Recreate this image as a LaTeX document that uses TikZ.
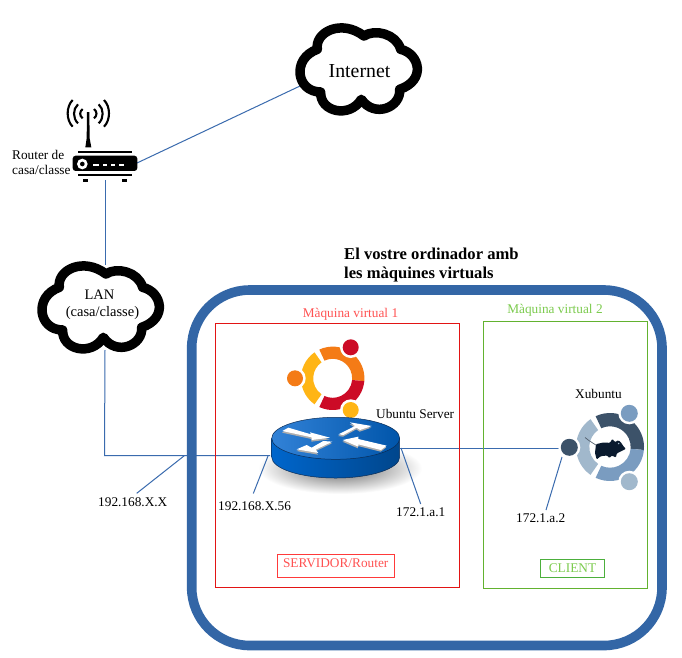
\documentclass[tikz,border=0pt]{standalone}
\usepackage{fontspec}
\setmainfont{Liberation Serif}
\definecolor{linkblue}{HTML}{3A6BAE}
\definecolor{frameblue}{HTML}{3366A6}
\definecolor{vmgreen}{HTML}{62B22F}
\definecolor{vmgreentxt}{HTML}{7CCB4E}
\definecolor{clientbox}{HTML}{4CAF3C}
\definecolor{vmred}{HTML}{E21414}
\definecolor{vmredtxt}{HTML}{FF5252}
\definecolor{srvbox}{HTML}{FF3A3A}
\definecolor{ubO}{HTML}{F47B16}
\definecolor{ubY}{HTML}{FFB515}
\definecolor{ubR}{HTML}{CC0B26}
\definecolor{xuD}{HTML}{3C5269}
\definecolor{xuM}{HTML}{7A9CC0}
\definecolor{xuL}{HTML}{A1B8CC}
\definecolor{rtSideL}{HTML}{0066CC}
\definecolor{rtSideR}{HTML}{00468C}
\definecolor{rtTopL}{HTML}{3282D7}
\definecolor{rtTopR}{HTML}{0055AA}
\definecolor{rtEdge}{HTML}{0B2C55}
\definecolor{mouse}{HTML}{0A1A2E}
\newcommand{\fs}[1]{\fontsize{#1}{#1}\selectfont}
\newcommand{\sector}[7]{\fill[#7] ([shift={(#1,#2)}]#5:#4) arc[start angle=#5,end angle=#6,radius=#4] -- ([shift={(#1,#2)}]#6:#3) arc[start angle=#6,end angle=#5,radius=#3] -- cycle;}
\newcommand{\cloudshape}[2]{\draw[cloudline,shift={(#1,#2)},scale=0.3333] (118,112) .. controls (110,60) and (190,20) .. (258,72) .. controls (290,50) and (355,65) .. (368,112) .. controls (425,125) and (445,205) .. (365,232) .. controls (370,285) and (290,320) .. (250,262) .. controls (215,320) and (125,300) .. (128,240) .. controls (55,240) and (40,140) .. (118,112) -- cycle;}
\newcommand{\rtarrow}[1]{\fill[arrowshade,shift={(-1,5)}] #1 -- cycle; \fill[arrowpoly] #1 -- cycle;}
\tikzset{
  link/.style={draw=linkblue,line width=1pt},
  cloudline/.style={draw=black,fill=white,line width=9.5pt,line join=round},
  lbl/.style={inner sep=0pt,text=black,font=\fs{13.3}},
  vmbox/.style={draw,line width=1pt,inner sep=0pt,anchor=north west},
  arrowpoly/.style={fill=white},
  arrowshade/.style={fill=black!32},
  wave/.style={draw=black,line width=2.1pt}
}
\begin{document}
\begin{tikzpicture}[x=1pt,y=-1pt]
\useasboundingbox (0,0) rectangle (682,657);
\fill[white] (0,0) rectangle (682,657);
% soft shadow of the router
\shade[inner color=black!62,outer color=white] (340,468) ellipse[x radius=82,y radius=26];
% anchors for connectors
\coordinate (inetport) at (300,86);
\coordinate (routerport) at (137,163);
\coordinate (routerdown) at (105,180);
\coordinate (lantop) at (105,265);
\coordinate (lanbot) at (105,350);
\coordinate (elbow) at (104.5,455.7);
\coordinate (srvL) at (270,455.7);
\coordinate (srvR) at (400,448.5);
\coordinate (cliL) at (561,448.5);
\coordinate (tapA) at (184.3,455.7);
\coordinate (leadA) at (136.7,493.3);
\coordinate (tapB) at (268,456);
\coordinate (leadB) at (253.3,493.5);
\coordinate (tapC) at (401,448);
\coordinate (leadC) at (420.7,504);
\coordinate (tapD) at (562,457);
\coordinate (leadD) at (546,510);
% connectors
\draw[link] (routerport) -- (inetport);
\draw[link] (routerdown) -- (lantop);
\draw[link] (lanbot) -- (elbow) -- (srvL);
\draw[link] (srvR) -- (cliL);
\draw[link] (tapA) -- (leadA);
\draw[link] (tapB) -- (leadB);
\draw[link] (tapC) -- (leadC);
\draw[link] (tapD) -- (leadD);
% frame
\draw[frameblue,line width=9.6pt] (191.7,290) [rounded corners=58pt] -- (662,290) -- (662,645.5) -- (191.7,645.5) -- cycle;
\node[vmbox,draw=vmred,minimum width=243.6pt,minimum height=263.7pt] (vm1) at (215.2,322.8) {};
\node[vmbox,draw=vmgreen,minimum width=164pt,minimum height=267pt] (vm2) at (482.8,320.8) {};
% text labels
\node[lbl,text=vmredtxt] (vm1t) at (350.5,314.5) {Màquina virtual 1};
\node[lbl,text=vmgreentxt] (vm2t) at (555,310.5) {Màquina virtual 2};
\node[lbl,font=\fs{16.6}\bfseries,align=left,anchor=north west] (title) at (344,247.5) {El vostre ordinador amb\\[2.5pt]les màquines virtuals};
\node[draw=srvbox,line width=0.9pt,minimum width=117pt,minimum height=23pt,inner sep=0pt] (srv) at (335.8,565.8) {};
\node[lbl,text=vmredtxt] (srvt) at (335.7,562.7) {SERVIDOR/Router};
\node[draw=clientbox,line width=0.9pt,minimum width=64pt,minimum height=18pt,inner sep=0pt] (cli) at (572.3,568.3) {};
\node[lbl,text=vmgreentxt] (clit) at (572.5,567.7) {CLIENT};
\node[lbl,anchor=west] (ubs) at (376,413.5) {Ubuntu Server};
\node[lbl,anchor=west] (xub) at (575,394) {Xubuntu};
\node[lbl,anchor=west] (ip1) at (396,512) {172.1.a.1};
\node[lbl,anchor=west] (ip2) at (516,518.5) {172.1.a.2};
\node[lbl,anchor=west] (ip3) at (98,502.5) {192.168.X.X};
\node[lbl,anchor=west] (ip4) at (218,505.7) {192.168.X.56};
\node[lbl,align=left,anchor=north west] (rlabel) at (12,150) {Router de\\[2pt]casa/classe};
% clouds
\cloudshape{20}{250}
\cloudshape{278}{12}
\node[lbl,font=\fs{14.5}] (lan) at (99.5,295) {LAN};
\node[lbl,font=\fs{14.5}] (lanb) at (102.5,313) {(casa/classe)};
\node[lbl,font=\fs{19.8}] (internet) at (359.5,71) {Internet};
% wireless router icon
\begin{scope}[shift={(50,90)},scale=0.3333]
\fill[black,rounded corners=3pt] (68,197) rectangle (262,243);
\fill (85,183) rectangle (245,189);
\fill (85,253) rectangle (245,259);
\fill (100,268) rectangle (115,275);
\fill (215,268) rectangle (230,275);
\fill (111,66) -- (118,66) -- (119,145) -- (124,172) -- (106,172) -- (110,145) -- cycle;
\fill[white] (97,222) circle[radius=16];
\fill[black] (97,222) circle[radius=7];
\foreach \a/\b in {130/147,160/172,182/195,207/222}{\fill[white] (\a,222) rectangle (\b,229);}
\end{scope}
\begin{scope}[shift={(60,95)},scale=0.3333]
\draw[wave] (68,42) .. controls (58,50) and (58,62) .. (68,70);
\draw[wave] (54,28) .. controls (38,42) and (38,70) .. (54,85);
\draw[wave] (38,15) .. controls (18,35) and (18,75) .. (38,95);
\draw[wave] (102,42) .. controls (112,50) and (112,62) .. (102,70);
\draw[wave] (116,28) .. controls (132,42) and (132,70) .. (116,85);
\draw[wave] (132,15) .. controls (152,35) and (152,75) .. (132,95);
\end{scope}
% ubuntu logo
\sector{332.7}{378.3}{19.5}{31.7}{5}{-115}{ubO}
\sector{332.7}{378.3}{19.5}{31.7}{-125}{-235}{ubY}
\sector{332.7}{378.3}{19.5}{31.7}{115}{5}{ubR}
\fill[white] (350.7,347.3) circle[radius=10.7];
\fill[white] (295,378.3) circle[radius=10.7];
\fill[white] (350.7,410) circle[radius=10.7];
\fill[ubR] (350.7,347.3) circle[radius=8];
\fill[ubO] (295,378.3) circle[radius=8];
\fill[ubY] (350.7,410) circle[radius=8];
% router
\shade[left color=rtSideL,right color=rtSideR,draw=rtEdge,line width=0.5pt]
  (271.7,438.3) -- (271.7,457) arc[start angle=180,end angle=0,x radius=64,y radius=21] -- (399.7,438.3) -- cycle;
\shade[draw=rtEdge,line width=0.5pt,left color=rtTopL,right color=rtTopR] (335.7,438.3) ellipse[x radius=64,y radius=21];
\begin{scope}[shift={(275,415)},scale=0.3333]
\rtarrow{(22,48) -- (40,38) -- (108,58) -- (105,52) -- (165,68) -- (110,75) -- (110,67)}
\rtarrow{(190,58) -- (240,33) -- (225,22) -- (290,33) -- (255,45) -- (245,38) -- (205,60)}
\rtarrow{(203,75) -- (250,65) -- (250,72) -- (335,92) -- (318,105) -- (250,88) -- (250,95)}
\rtarrow{(172,80) -- (145,78) -- (110,98) -- (95,90) -- (65,103) -- (130,114) -- (122,104)}
\end{scope}
% xubuntu logo
\sector{610}{447}{20.7}{34}{5}{-115}{xuD}
\sector{610}{447}{20.7}{34}{-125}{-235}{xuL}
\sector{610}{447}{20.7}{34}{115}{5}{xuM}
\fill[white] (629.3,413.3) circle[radius=11];
\fill[white] (569.3,447.3) circle[radius=11];
\fill[white] (629.3,481.7) circle[radius=11];
\fill[xuM] (629.3,413.3) circle[radius=8.5];
\fill[xuD] (569.3,447.3) circle[radius=8.5];
\fill[xuL] (629.3,481.7) circle[radius=8.5];
\begin{scope}[shift={(580,431.5)},scale=0.3333]
\draw[mouse!70,line width=0.7pt] (15,18) -- (28,28) -- (50,42);
\fill[mouse,rounded corners=1pt] (48,38) -- (70,33) -- (90,34) -- (97,22) -- (105,32) -- (115,26) -- (124,34) -- (130,44) -- (138,52) -- (122,60) -- (110,66) -- (108,78) -- (95,72) -- (88,80) -- (82,72) -- (62,74) -- (50,84) -- (45,64) -- cycle;
\fill[xuL] (116,36) circle[radius=2.5];
\end{scope}
\end{tikzpicture}
\end{document}
